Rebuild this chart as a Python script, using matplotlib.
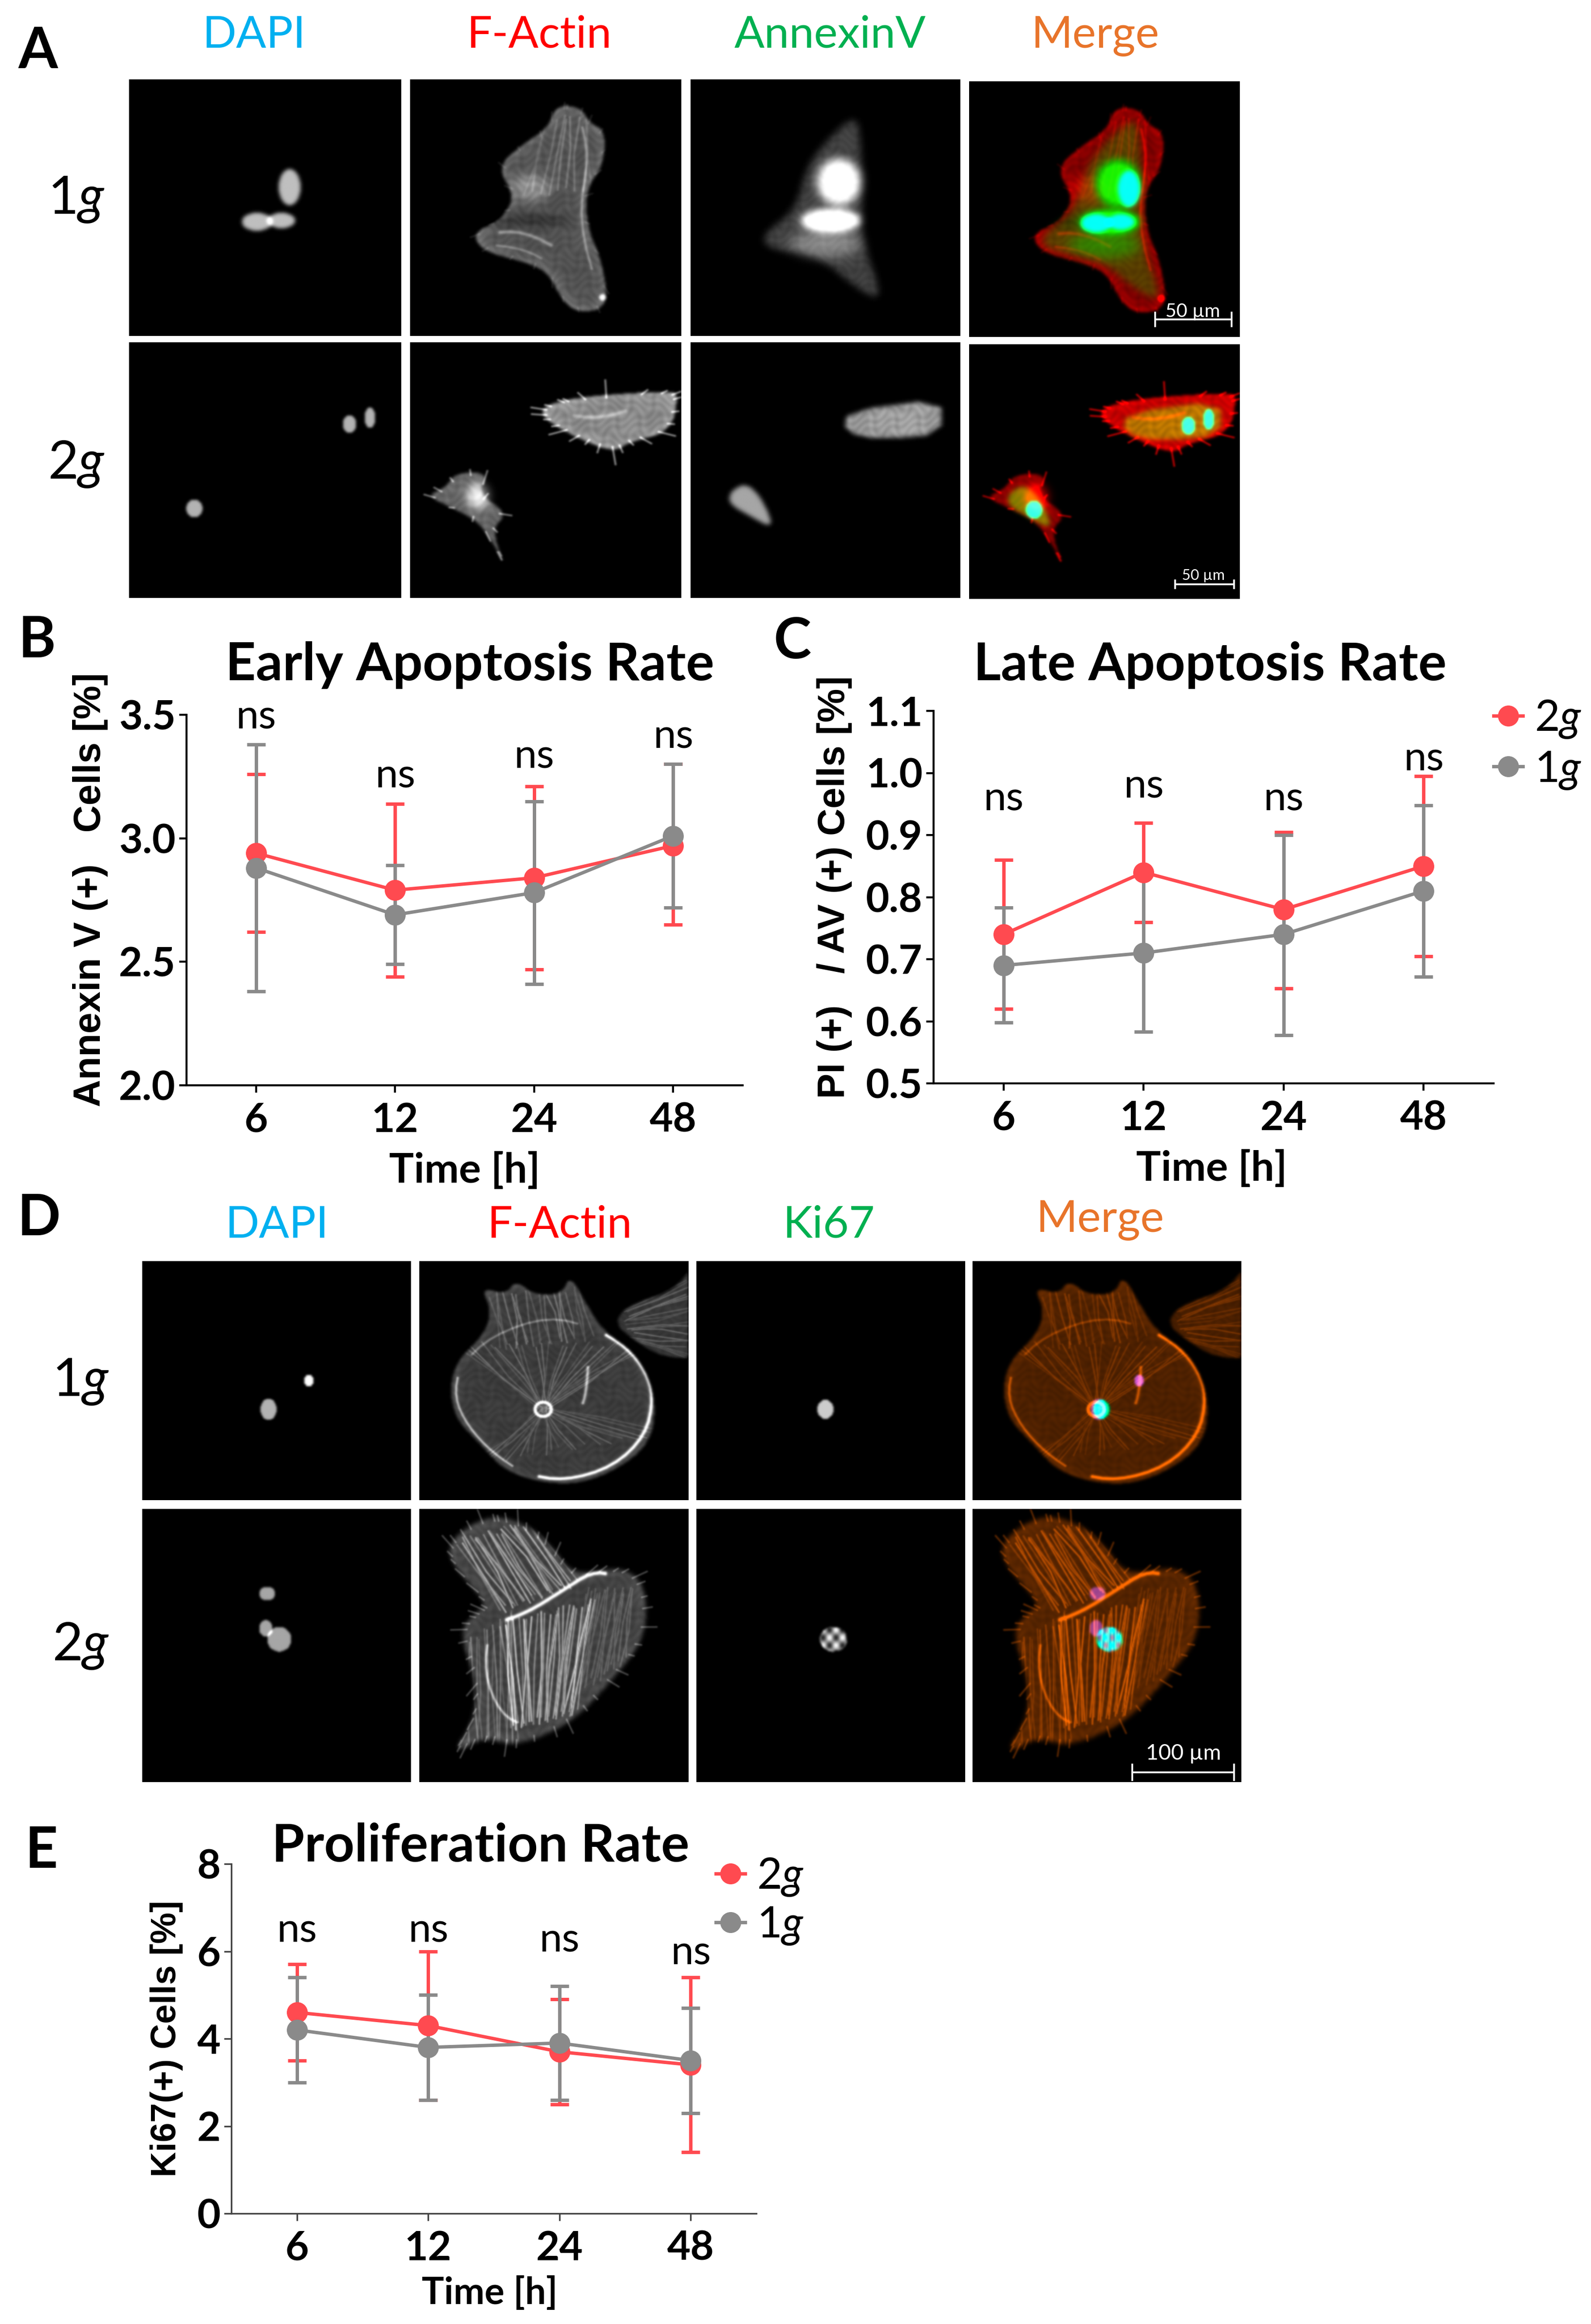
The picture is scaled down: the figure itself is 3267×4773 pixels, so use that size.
import numpy as np
import matplotlib
matplotlib.use("Agg")
import matplotlib.pyplot as plt
from matplotlib.path import Path
from matplotlib.lines import Line2D

W, H = 3267, 4773
plt.rcParams['font.family'] = ['Lato', 'DejaVu Sans']
plt.rcParams['mathtext.fontset'] = 'custom'
plt.rcParams['mathtext.rm'] = 'Lato'
plt.rcParams['mathtext.it'] = 'Lato:italic'
plt.rcParams['mathtext.bf'] = 'Lato:bold'

# ---------- chart data ----------
times = ['6', '12', '24', '48']
series_labels = ['2$\\mathit{g}$', '1$\\mathit{g}$']
RED, GREY = '#FF4A50', '#8A8A8A'

early_2g = [2.94, 2.79, 2.84, 2.97]
early_2g_hi = [3.26, 3.14, 3.21, 3.30]
early_2g_lo = [2.62, 2.44, 2.47, 2.65]
early_1g = [2.88, 2.69, 2.78, 3.01]
early_1g_hi = [3.38, 2.89, 3.15, 3.30]
early_1g_lo = [2.38, 2.49, 2.41, 2.72]
early_ns = [3.49, 3.25, 3.33, 3.41]
early_ticks = ['2.0', '2.5', '3.0', '3.5']

late_2g = [0.74, 0.84, 0.78, 0.85]
late_2g_hi = [0.86, 0.92, 0.905, 0.995]
late_2g_lo = [0.62, 0.76, 0.653, 0.705]
late_1g = [0.69, 0.71, 0.74, 0.81]
late_1g_hi = [0.783, 0.838, 0.90, 0.948]
late_1g_lo = [0.598, 0.583, 0.578, 0.672]
late_ns = [0.958, 0.978, 0.958, 1.022]
late_ticks = ['0.5', '0.6', '0.7', '0.8', '0.9', '1.0', '1.1']

prolif_2g = [4.6, 4.3, 3.7, 3.4]
prolif_2g_hi = [5.7, 6.0, 4.9, 5.4]
prolif_2g_lo = [3.5, 2.6, 2.5, 1.4]
prolif_1g = [4.2, 3.8, 3.9, 3.5]
prolif_1g_hi = [5.4, 5.0, 5.2, 4.7]
prolif_1g_lo = [3.0, 2.6, 2.6, 2.3]
prolif_ns = [6.47, 6.47, 6.24, 5.95]
prolif_ticks = ['0', '2', '4', '6', '8']

fig = plt.figure(figsize=(W / 100, H / 100), dpi=100, facecolor='white')

def px_axes(x0, y0, x1, y1, **kw):
    return fig.add_axes([x0 / W, 1 - y1 / H, (x1 - x0) / W, (y1 - y0) / H], **kw)

over = px_axes(0, 0, W, H, zorder=20)
over.set_xlim(0, W)
over.set_ylim(H, 0)
over.axis('off')
over.patch.set_alpha(0)

def txt(x, y, s, size, color='black', weight='normal', family=None, rot=0):
    over.text(x, y, s, fontsize=size, color=color, fontweight=weight,
              family=family or ['Lato', 'DejaVu Sans'], rotation=rot,
              ha='center', va='center')

# ---------- microscopy raster helpers ----------
N = 300
gx, gy = np.meshgrid((np.arange(N) + .5) / N, (np.arange(N) + .5) / N)
pts = np.c_[gx.ravel(), gy.ravel()]
tex = .9 + .1 * np.sin(gx * 90 + 3 * np.sin(gy * 40)) * np.sin(gy * 110 + 2 * np.sin(gx * 70))

def blur(a, s):
    k = np.arange(-int(3 * s) - 1, int(3 * s) + 2)
    g = np.exp(-k ** 2 / (2 * s ** 2))
    g /= g.sum()
    a = np.apply_along_axis(lambda v: np.convolve(v, g, mode='same'), 0, a)
    return np.apply_along_axis(lambda v: np.convolve(v, g, mode='same'), 1, a)

def chaikin(p, n=3, closed=True):
    p = np.array(p, float)
    for _ in range(n):
        q = np.roll(p, -1, axis=0) if closed else p[1:]
        a = p if closed else p[:-1]
        new = np.empty((2 * len(a), 2))
        new[0::2] = .75 * a + .25 * q
        new[1::2] = .25 * a + .75 * q
        p = new
    return p

def poly(p, s=1.5, corner=3):
    return blur(Path(chaikin(p, corner)).contains_points(pts).reshape(N, N).astype(float), s)

def ell(cx, cy, rx, ry, s=1.2):
    m = (((gx - cx) / rx) ** 2 + ((gy - cy) / ry) ** 2 <= 1).astype(float)
    return blur(m, s)

def seg(p0, p1, w=.004):
    a, b = np.array(p0), np.array(p1)
    d = b - a
    t = np.clip(((gx - a[0]) * d[0] + (gy - a[1]) * d[1]) / (d @ d), 0, 1)
    dist2 = (gx - a[0] - t * d[0]) ** 2 + (gy - a[1] - t * d[1]) ** 2
    return np.exp(-dist2 / w ** 2)

def curve(points, w=.005, smooth=True):
    points = chaikin(points, 2, closed=False) if smooth else np.array(points)
    out = np.zeros((N, N))
    for a, b in zip(points[:-1], points[1:]):
        out = np.maximum(out, seg(a, b, w))
    return out

def fan(a0, a1, b0, b1, n, w=.003, bend=.012):
    """Bundle of slightly wavy stress fibres with uneven brightness."""
    out = np.zeros((N, N))
    a0, a1, b0, b1 = map(np.array, (a0, a1, b0, b1))
    for t in np.linspace(0, 1, n):
        j = np.sin(t * 37.0)
        p = a0 + t * (a1 - a0) + bend * np.array([j, np.cos(t * 23.0)])
        q = b0 + t * (b1 - b0) + bend * np.array([np.sin(t * 51.0), j])
        mid = (p + q) / 2 + bend * np.array([np.cos(t * 29.0), np.sin(t * 17.0)])
        gain = .45 + .55 * np.sin(t * 53.0) ** 2
        out = np.maximum(out, gain * np.maximum(seg(p, mid, w), seg(mid, q, w)))
    return out

def spikes(outline, n, length, w=.0035):
    """Thin filopodia pointing out of a cell outline."""
    p = chaikin(outline)
    c = p.mean(axis=0)
    out = np.zeros((N, N))
    for i, t in enumerate(np.linspace(0, len(p) - 1, n).astype(int)):
        d = p[t] - c
        d = d / np.hypot(*d)
        out = np.maximum(out, seg(p[t] - .01 * d, p[t] + length * (.2 + .8 * np.sin(i * 2.3) ** 4) * d, w))
    return out

def rim(m, s=7):
    return np.clip(m * (1 - blur(m, s)) * 2, 0, 1)

# cell outlines, fractions of a panel (x, y from top left)
a1_cell = [(.54, .10), (.63, .11), (.66, .17), (.72, .20), (.71, .34), (.65, .42), (.65, .57), (.71, .72),
           (.73, .89), (.62, .91), (.56, .86), (.51, .75), (.42, .71), (.27, .67), (.23, .60), (.33, .55),
           (.39, .46), (.32, .34), (.42, .25), (.51, .19)]
a1_green = [(.61, .14), (.63, .22), (.64, .47), (.63, .61), (.72, .87), (.61, .81), (.48, .69), (.28, .66),
            (.27, .60), (.39, .51), (.43, .34), (.52, .22)]
a2_cell1 = [(.51, .24), (.66, .21), (.96, .19), (.99, .21), (.96, .35), (.81, .39), (.75, .43), (.63, .38),
            (.54, .33), (.48, .28)]
a2_cell2 = [(.29, .51), (.25, .59), (.36, .67), (.30, .73), (.35, .88), (.31, .79), (.25, .70), (.16, .65),
            (.06, .60), (.13, .57), (.17, .51)]
a2_green1 = [(.58, .27), (.93, .22), (.93, .36), (.70, .38), (.57, .35)]
a2_green2 = [(.21, .55), (.27, .62), (.31, .73), (.22, .68), (.14, .63), (.15, .58)]
d1_cell = [(.23, .11), (.32, .14), (.36, .08), (.42, .14), (.53, .14), (.56, .06), (.62, .18), (.68, .29),
           (.81, .39), (.88, .57), (.86, .77), (.69, .90), (.53, .94), (.33, .89), (.23, .77), (.12, .64),
           (.12, .44), (.24, .31), (.27, .21)]
d1_next = [(1.05, -.05), (1.05, .41), (.90, .40), (.81, .34), (.72, .26), (.78, .18), (.96, .12)]
d1_ring = [(.65, .28), (.77, .36), (.84, .46), (.87, .57), (.84, .73), (.72, .86), (.54, .92), (.39, .89),
           (.27, .80), (.18, .69), (.13, .57), (.15, .44), (.27, .31), (.48, .23), (.65, .28)]
d2_cell = [(.24, .03), (.36, .04), (.48, .12), (.57, .25), (.75, .21), (.84, .28), (.84, .47), (.72, .62),
           (.57, .78), (.36, .87), (.24, .83), (.12, .90), (.21, .77), (.21, .62), (.15, .45), (.21, .38),
           (.26, .35), (.11, .19), (.12, .11)]

def build_a1():
    m = poly(a1_cell)
    act = (.36 * m + .14 * rim(m)) * tex
    act += .18 * m * fan((.50, .15), (.66, .15), (.42, .45), (.66, .42), 9, .004)
    act += .25 * m * curve([(.62, .12), (.66, .30), (.62, .55), (.70, .85)], .005)
    act += .28 * m * curve([(.28, .60), (.42, .59), (.58, .68)], .007) + .2 * m * curve([(.26, .64), (.42, .66), (.52, .72)], .005)
    act += .28 * m * ell(.45, .42, .07, .05, 6) * tex + .12 * spikes(a1_cell, 26, .025)
    act -= .14 * ell(.42, .55, .16, .025, 5)
    act += .7 * ell(.71, .85, .012, .012)
    g = poly(a1_green, 4)
    grn = .28 * g * tex + .85 * blur(ell(.55, .40, .08, .09), 5) + .95 * blur(ell(.52, .55, .11, .045), 4)
    grn += .3 * blur(ell(.5, .64, .13, .05), 7)
    dap = .75 * (ell(.59, .42, .04, .07, 2) + ell(.47, .555, .055, .035, 2) + ell(.56, .55, .05, .03, 2))
    return np.clip(act, 0, 1), np.clip(grn, 0, 1), np.clip(dap, 0, 1)

def build_a2():
    m1, m2 = poly(a2_cell1, corner=2), poly(a2_cell2, corner=2)
    act = (.6 * m1 + .1 * rim(m1)) * tex + .2 * m1 * curve([(.55, .28), (.70, .30), (.85, .25)], .008)
    act += .6 * spikes(a2_cell1, 24, .06)
    act += .45 * m2 * tex + .55 * blur(ell(.25, .60, .04, .05), 5) + .5 * spikes(a2_cell2, 14, .035)
    g1, g2 = poly(a2_green1, 2.5, corner=1), poly(a2_green2, 2.5, corner=2)
    grn = .68 * g1 * tex + .65 * g2
    dap = .7 * (ell(.81, .32, .025, .035) + ell(.885, .295, .02, .04) + ell(.24, .65, .03, .035))
    return np.clip(act, 0, 1), np.clip(grn, 0, 1), np.clip(dap, 0, 1)

def build_d1():
    m, n = poly(d1_cell), poly(d1_next)
    act = (.26 * m + .24 * n) * tex + .08 * rim(m)
    act += .22 * m * fan((.46, .62), (.46, .62), (.13, .35), (.88, .35), 24, .0028)
    act += .18 * m * fan((.46, .62), (.46, .62), (.18, .85), (.90, .72), 24, .0028)
    act += .22 * n * fan((.76, .20), (.80, .34), (1, .05), (1, .42), 20, .0028)
    act += .24 * m * fan((.26, .14), (.60, .12), (.30, .36), (.64, .32), 20, .0032)
    act += .8 * m * curve(d1_ring[:8], .007) + .45 * m * curve(d1_ring[7:12], .005) + .25 * m * curve(d1_ring[11:], .005)
    t = np.radians(np.linspace(0, 360, 24))
    act += 1.0 * curve(list(zip(.46 + .03 * np.cos(t), .62 + .03 * np.sin(t))), .006, smooth=False)
    act += .5 * curve([(.63, .38), (.62, .55), (.60, .62)], .006)
    grn = .8 * ell(.48, .62, .03, .04)
    dap = .7 * ell(.47, .62, .03, .045) + 1.0 * ell(.62, .50, .017, .025)
    return np.clip(act, 0, 1), np.clip(grn, 0, 1), np.clip(dap, 0, 1)

def build_d2():
    m = poly(d2_cell, 2.5)
    act = (.28 * m + .10 * rim(m)) * tex
    act += .48 * m * fan((.14, .12), (.42, .05), (.30, .37), (.58, .27), 30, .0032)
    act += .55 * m * fan((.30, .42), (.66, .34), (.34, .80), (.58, .74), 34, .0032)
    act += .28 * m * fan((.17, .50), (.35, .38), (.18, .88), (.36, .86), 14, .003)
    act += .3 * m * fan((.62, .30), (.80, .30), (.55, .70), (.76, .55), 18, .003)
    act += .85 * curve([(.28, .42), (.40, .38), (.53, .30), (.64, .23), (.72, .24)], .007)
    act += .45 * curve([(.26, .44), (.24, .60), (.30, .75), (.40, .80)], .005)
    act += .32 * spikes(d2_cell, 60, .05, .003)
    grn = .95 * ell(.51, .477, .05, .045) * (.6 + .4 * np.sin(gx * 130) * np.sin(gy * 110))
    dap = .65 * (ell(.465, .31, .03, .025) + ell(.46, .437, .025, .03) + ell(.51, .477, .045, .045))
    return np.clip(act, 0, 1), np.clip(grn, 0, 1), np.clip(dap, 0, 1)

def show(rect, img):
    ax = px_axes(*rect)
    ax.imshow(img, cmap='gray', vmin=0, vmax=1, aspect='auto', interpolation='bilinear')
    ax.axis('off')

def merge_a(a, g, d, yellow):
    if yellow:
        r = np.clip(a * 1.35, 0, 1) * (1 - .9 * d)
    else:
        r = np.clip(a * 1.45, 0, 1) * (1 - .8 * np.clip(g * 1.3, 0, 1)) * (1 - d)
    gg = np.clip(g * (.75 if yellow else .95) + d * 1.3, 0, 1)
    b = np.clip(d * 1.3, 0, 1)
    return np.dstack([r, gg, b])

def merge_d(a, g, d):
    v = np.clip(a * 1.05, 0, 1) ** .85
    r = np.clip(v + .45 * d - .9 * g, 0, 1)
    gg = np.clip(v * .42 + g + .2 * d, 0, 1)
    b = np.clip(d * .85 + .6 * g, 0, 1)
    return np.dstack([r, gg, b])

a_cols = [(265, 824), (842, 1398), (1418, 1972), (1990, 2546)]
a_rows = [(163, 690), (703, 1228)]
d_cols = [(292, 844), (861, 1413), (1430, 1982), (1997, 2549)]
d_rows = [(2590, 3081), (3099, 3660)]

for row, builder, yellow in zip(a_rows, (build_a1, build_a2), (False, True)):
    a, g, d = builder()
    show((a_cols[0][0], row[0], a_cols[0][1], row[1]), blur(d, .8))
    show((a_cols[1][0], row[0], a_cols[1][1], row[1]), blur(a, .8))
    show((a_cols[2][0], row[0], a_cols[2][1], row[1]), blur(g, .8))
    show((a_cols[3][0], row[0] + 4, a_cols[3][1], row[1] + 2), merge_a(blur(a, .8), blur(g, .8), blur(d, .8), yellow))

for row, builder in zip(d_rows, (build_d1, build_d2)):
    a, g, d = builder()
    show((d_cols[0][0], row[0], d_cols[0][1], row[1]), d)
    show((d_cols[1][0], row[0], d_cols[1][1], row[1]), blur(a, .6))
    show((d_cols[2][0], row[0], d_cols[2][1], row[1]), g)
    show((d_cols[3][0], row[0], d_cols[3][1], row[1]), merge_d(blur(a, .6), g, d))

# scale bars
def scalebar(x0, x1, y, tick, label, tx, ty, size):
    over.plot([x0, x1], [y, y], color='white', lw=2.6, solid_capstyle='butt')
    for xx in (x0, x1):
        over.plot([xx, xx], [y - tick, y + tick], color='white', lw=2.6)
    txt(tx, ty, label, size, color='white')

scalebar(2372, 2529, 656, 14, '50 µm', 2449, 640, 28)
scalebar(2413, 2534, 1200, 8, '50 µm', 2471, 1182, 22)
scalebar(2325, 2534, 3640, 16, '100 µm', 2430, 3601, 32)

# headers
CY, RD, GN, OR = '#00B0F0', '#FF0000', '#00B050', '#E8742A'
for x, y, s, c in [(522, 72, 'DAPI', CY), (1107, 72, 'F-Actin', RD), (1705, 72, 'AnnexinV', GN), (2249, 74, 'Merge', OR),
                   (569, 2516, 'DAPI', CY), (1149, 2516, 'F-Actin', RD), (1702, 2516, 'Ki67', GN), (2259, 2506, 'Merge', OR)]:
    txt(x, y, s, 66, color=c)

for x, y, s in [(157, 410, '1$\\mathit{g}$'), (157, 953, '2$\\mathit{g}$'),
                (166, 2838, '1$\\mathit{g}$'), (166, 3380, '2$\\mathit{g}$')]:
    txt(x, y, s, 78)

for x, y, s in [(78, 106, 'A'), (76, 1316, 'B'), (1627, 1318, 'C'), (80, 2503, 'D'), (85, 3802, 'E')]:
    txt(x, y, s, 84, weight='bold')

# ---------- charts ----------
def chart(rect, ylim, yticks, yticklabels, m2, hi2, lo2, m1, hi1, lo1, ns, spine='black', slw=3.0):
    ax = px_axes(*rect)
    x = np.arange(len(times))
    for m, hi, lo, c in [(m2, hi2, lo2, RED), (m1, hi1, lo1, GREY)]:
        m, hi, lo = map(np.array, (m, hi, lo))
        ax.errorbar(x, m, yerr=[m - lo, hi - m], color=c, lw=5, marker='o', ms=30,
                    elinewidth=5, capsize=14, capthick=5, clip_on=False)
    ax.set_xlim(-.5, 3.5)
    ax.set_ylim(*ylim)
    ax.set_xticks(x, times)
    ax.set_yticks(yticks, yticklabels)
    for s in ('top', 'right'):
        ax.spines[s].set_visible(False)
    for s in ('left', 'bottom'):
        ax.spines[s].set_linewidth(slw)
        ax.spines[s].set_color(spine)
    ax.tick_params(length=11, width=slw, color=spine)
    ax.tick_params(axis='x', pad=14)
    ax.tick_params(axis='y', pad=5)
    for lab in ax.get_xticklabels() + ax.get_yticklabels():
        lab.set_fontsize(60)
        lab.set_fontweight('bold')
    ax.patch.set_alpha(0)
    for xi, yi in zip(x, ns):
        ax.text(xi, yi, 'ns', fontsize=60, ha='center', va='center', clip_on=False)
    return ax

def legend(ax, anchor, size, spacing):
    handles = [Line2D([], [], color=RED, lw=5, marker='o', ms=30),
               Line2D([], [], color=GREY, lw=5, marker='o', ms=30)]
    ax.legend(handles, series_labels, loc='upper left', bbox_to_anchor=(anchor[0] / W, 1 - anchor[1] / H),
              bbox_transform=fig.transFigure, frameon=False, fontsize=size, handlelength=.67,
              handletextpad=.28, labelspacing=spacing, borderpad=0, borderaxespad=0)

ax_b = chart((383, 1468, 1525, 2229), (2.0, 3.5), [2.0, 2.5, 3.0, 3.5], early_ticks,
             early_2g, early_2g_hi, early_2g_lo, early_1g, early_1g_hi, early_1g_lo, early_ns)
ax_c = chart((1917, 1460, 3067, 2225), (0.5, 1.1), [.5, .6, .7, .8, .9, 1.0, 1.1], late_ticks,
             late_2g, late_2g_hi, late_2g_lo, late_1g, late_1g_hi, late_1g_lo, late_ns)
ax_e = chart((475, 3828, 1553, 4546), (0, 8), [0, 2, 4, 6, 8], prolif_ticks,
             prolif_2g, prolif_2g_hi, prolif_2g_lo, prolif_1g, prolif_1g_hi, prolif_1g_lo, prolif_ns,
             spine='#444444', slw=2.4)
legend(ax_c, (3067, 1434), 64, .22)
legend(ax_e, (1470, 3812), 64, .17)

txt(965, 1366, 'Early Apoptosis Rate', 78, weight='bold')
txt(2485, 1366, 'Late Apoptosis Rate', 78, weight='bold')
txt(987, 3792, 'Proliferation Rate', 78, weight='bold')
txt(954, 2404, 'Time [h]', 61, weight='bold')
txt(2488, 2400, 'Time [h]', 61, weight='bold')
txt(1006, 4710, 'Time [h]', 55, weight='bold')
SANS = ['Liberation Sans', 'DejaVu Sans']
txt(186, 1827, 'Annexin V (+)   Cells [%]', 56, weight='bold', family=SANS, rot=90)
txt(1714, 1822, 'PI (+)   / AV (+) Cells [%]', 56, weight='bold', family=SANS, rot=90)
txt(342, 4187, 'Ki67(+) Cells [%]', 52, weight='bold', family=SANS, rot=90)

fig.savefig('out.png', dpi=100, facecolor='white')
